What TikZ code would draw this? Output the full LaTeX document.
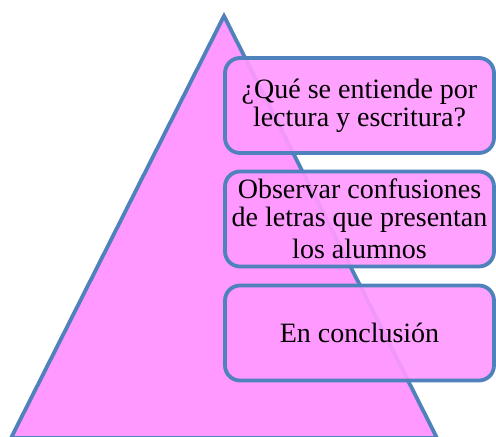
\documentclass[tikz,border=0pt]{standalone}
\usepackage{fontspec}
\setmainfont{Liberation Serif}
\definecolor{pinkfill}{HTML}{FF99FF}
\definecolor{blueline}{HTML}{4F81BD}
\tikzset{
  tri/.style={draw=blueline, fill=pinkfill, line width=3.8pt, line join=miter},
  levelbox/.style={draw=blueline, fill=pinkfill, fill opacity=0.92, text opacity=1,
    line width=3.8pt, rounded corners=15pt, minimum width=269pt, minimum height=95pt,
    align=center, inner sep=0pt,
    font=\fontsize{28pt}{28pt}\selectfont}
}
\begin{document}
\begin{tikzpicture}[x=1pt,y=-1pt]
\useasboundingbox (0,0) rectangle (496,437);
\coordinate (apex) at (224,16);
\coordinate (bl) at (11,438);
\coordinate (br) at (437,438);
\draw[tri] (apex) -- (bl) -- (br) -- cycle;
\node[levelbox] (b1) at (359.5,105.5) {¿Qué se entiende por\\lectura y escritura?};
\node[levelbox] (b2) at (359.5,219) {Observar confusiones\\de letras que presentan\\[4pt]los alumnos};
\node[levelbox] (b3) at (359.5,333) {En conclusión};
\end{tikzpicture}
\end{document}
